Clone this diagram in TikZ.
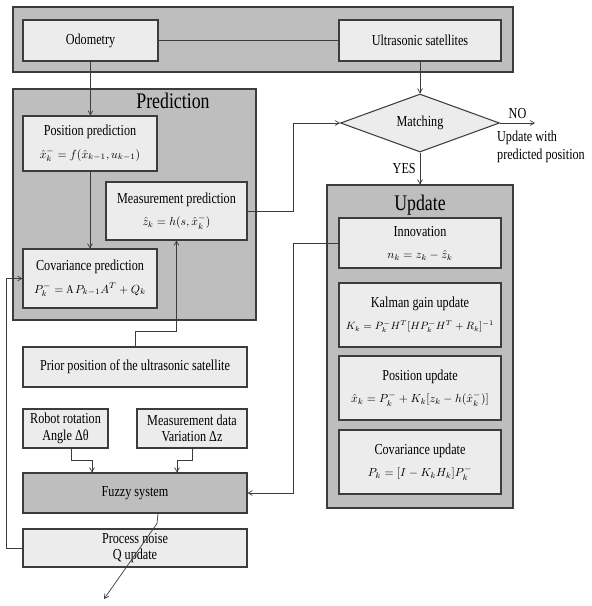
\documentclass[tikz,border=0pt]{standalone}
\usepackage{amsmath}
\usepackage{fontspec}
\setmainfont{Liberation Serif}[FakeStretch=0.8]
\usetikzlibrary{arrows,calc,shapes.geometric}
\definecolor{panelgray}{RGB}{190,190,190}
\definecolor{boxgray}{RGB}{236,236,236}
\definecolor{linegray}{RGB}{60,60,60}
\tikzset{box/.style={draw=linegray, line width=0.9pt, fill=boxgray, align=center, inner sep=1pt, font=\fontsize{13}{14}\selectfont}}
\tikzset{panel/.style={draw=linegray, line width=0.9pt, fill=panelgray}}
\tikzset{ttl/.style={font=\fontsize{19}{19}\selectfont}}
\tikzset{l/.style={font=\fontsize{13}{15}\selectfont}}
\tikzset{wire/.style={draw=linegray, line width=0.6pt, >=angle 60}}
\newcommand{\kfeq}[1]{{\fontsize{10}{11}\selectfont$#1$}}

\begin{document}
\begin{tikzpicture}[x=0.03cm, y=-0.03cm]
    \useasboundingbox (0,0) rectangle (592,606);
    % panels
    \node[panel, minimum width=15cm, minimum height=1.95cm] (band) at (263,39.5) {};
    \node[panel, minimum width=7.29cm, minimum height=6.93cm] (predp) at (134.5,204.5) {};
    \node[panel, minimum width=5.58cm, minimum height=9.69cm] (updp) at (420,346.5) {};
    \node[ttl] (predt) at (173,101) {Prediction};
    \node[ttl] (updt) at (420,205) {Update};

    % top row
    \node[box, minimum width=4.05cm, minimum height=1.23cm] (odo) at (90.5,40.5) {Odometry};
    \node[box, minimum width=4.86cm, minimum height=1.23cm] (us) at (420,40.5) {Ultrasonic satellites};

    % prediction
    \node[box, minimum width=4.02cm, minimum height=1.65cm] (pp) at (90,143.5)
      {Position prediction\\[5pt]\kfeq{\hat{x}_k^- = f(\hat{x}_{k-1}, u_{k-1})}};
    \node[box, minimum width=4.23cm, minimum height=1.74cm] (mp) at (176.5,211)
      {Measurement prediction\\[5pt]\kfeq{\hat{z}_k = h(s, \hat{x}_k^-)}};
    \node[box, minimum width=4.02cm, minimum height=1.77cm] (cp) at (90,278.5)
      {Covariance prediction\\[5pt]\kfeq{P_k^- = \mathrm{A}P_{k-1}A^T + Q_k}};

    % matching
    \node[draw=linegray, line width=0.9pt, fill=boxgray, diamond, aspect=2.7, inner sep=0pt,
      minimum width=4.77cm, minimum height=1.74cm, l] (match) at (420,123) {Matching};
    \coordinate (no) at (535,123);
    \node[l, align=left] (nolbl) at (541,147) {Update with\\predicted position};

    % update
    \node[box, minimum width=4.86cm, minimum height=1.5cm] (inn) at (420,243)
      {Innovation\\[5pt]\kfeq{n_k = z_k - \hat{z}_k}};
    \node[box, minimum width=4.86cm, minimum height=1.92cm] (kg) at (420,315)
      {Kalman gain update\\[5pt]{\fontsize{9}{10}\selectfont$K_k = P_k^- H^T [H P_k^- H^T + R_k]^{-1}$}};
    \node[box, minimum width=4.86cm, minimum height=1.92cm] (pu) at (420,388)
      {Position update\\[5pt]\kfeq{\hat{x}_k = P_k^- + K_k[z_k - h(\hat{x}_k^-)]}};
    \node[box, minimum width=4.86cm, minimum height=1.92cm] (cu) at (420,462)
      {Covariance update\\[5pt]\kfeq{P_k = [I - K_k H_k] P_k^-}};

    % lower left
    \node[box, minimum width=6.72cm, minimum height=1.2cm] (pr) at (135,367)
      {Prior position of the ultrasonic satellite};
    \node[box, minimum width=2.55cm, minimum height=1.17cm] (rb) at (65.5,428.5)
      {Robot rotation\\Angle Δθ};
    \node[box, minimum width=3.3cm, minimum height=1.17cm] (md) at (192,428.5)
      {Measurement data\\Variation Δz};
    \node[box, fill=panelgray, minimum width=6.72cm, minimum height=1.2cm] (fz) at (135,493)
      {Fuzzy system};
    \node[box, minimum width=6.72cm, minimum height=1.14cm] (pn) at (135,548)
      {Process noise\\Q update};

    % connectors
    \coordinate (c1) at (293,123);
    \coordinate (c2) at (293,493);
    \coordinate (out) at (104,599);
    \draw[wire] (odo.east) -- (us.west);
    \draw[wire, ->] (odo.south) -- (odo.south |- pp.north);
    \draw[wire, ->] (us.south) -- (match.north);
    \draw[wire, ->] (pp.south) -- (cp.north);
    \draw[wire, ->] (mp.east) -| (c1) -- (match.west);
    \draw[wire, ->] (match.east) -- node[above, l] {NO} (no);
    \draw[wire, ->] (match.south) -- node[left, l] {YES} (updp.north);
    \draw[wire, ->] (inn.west) -| (c2) -- (fz.east);
    \draw[wire, ->] (pr.north) -- ++(0,-15) -| (mp.south);
    \draw[wire, ->] ($(rb.south)+(6,0)$) -- ++(0,12) -| ($(fz.north)+(-43,0)$);
    \draw[wire, ->] (md.south) -- ++(0,12) -| ($(fz.north)+(42,0)$);
    \draw[wire, ->] (pn.west) -- ++(-16,0) |- (cp.west);
    \draw[wire, ->] ($(fz.south)+(23,0)$) -- ++(-1,10) -- (out);
\end{tikzpicture}
\end{document}
